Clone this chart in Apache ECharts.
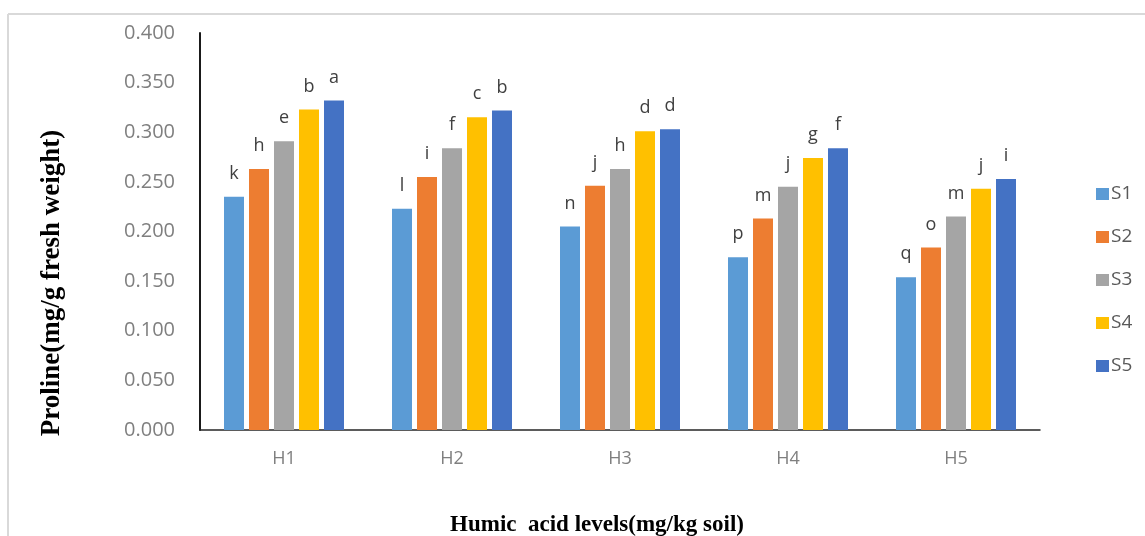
<!DOCTYPE html>
<html>
<head>
<meta charset="utf-8">
<script src="https://cdn.jsdelivr.net/npm/echarts@6/dist/echarts.min.js"></script>
<style>
  html, body { margin: 0; padding: 0; background: #fff; }
  #chart { width: 1145px; height: 536px; }
</style>
</head>
<body>
<div id="chart"></div>
<script>
// Humic acid levels on the x axis
const categories = ['H1', 'H2', 'H3', 'H4', 'H5'];
const seriesNames = ['S1', 'S2', 'S3', 'S4', 'S5'];

// Proline content (mg/g fresh weight) for each level
const s1 = [0.235, 0.223, 0.205, 0.174, 0.154];
const s2 = [0.263, 0.255, 0.246, 0.213, 0.184];
const s3 = [0.291, 0.284, 0.263, 0.245, 0.215];
const s4 = [0.323, 0.315, 0.301, 0.274, 0.243];
const s5 = [0.332, 0.322, 0.303, 0.284, 0.253];

// Significance letters drawn above each bar
const l1 = ['k', 'l', 'n', 'p', 'q'];
const l2 = ['h', 'i', 'j', 'm', 'o'];
const l3 = ['e', 'f', 'h', 'j', 'm'];
const l4 = ['b', 'c', 'd', 'g', 'j'];
const l5 = ['a', 'b', 'd', 'f', 'i'];

const yTicks = ['0.000', '0.050', '0.100', '0.150', '0.200', '0.250', '0.300', '0.350', '0.400'];

const values = [s1, s2, s3, s4, s5];
const letters = [l1, l2, l3, l4, l5];
const colors = ['#5b9bd5', '#ed7d31', '#a5a5a5', '#ffc000', '#4472c4'];

const chart = echarts.init(document.getElementById('chart'), null, { renderer: 'canvas' });

const series = seriesNames.map((name, i) => ({
  name: name,
  type: 'bar',
  barWidth: 20,
  barGap: '25%',
  itemStyle: { color: colors[i] },
  label: {
    show: true,
    position: 'top',
    distance: 14,
    fontFamily: 'Open Sans',
    fontSize: 18,
    color: '#404040',
    formatter: p => letters[i][p.dataIndex]
  },
  data: values[i]
}));

chart.setOption({
  animation: false,
  backgroundColor: '#ffffff',
  grid: { left: 200, right: 105, top: 33, bottom: 106, containLabel: false },
  legend: {
    orient: 'vertical',
    left: 1091,
    top: 179,
    icon: 'rect',
    itemWidth: 13,
    itemHeight: 12,
    itemGap: 23,
    textStyle: { fontFamily: 'Open Sans', fontSize: 19, color: '#595959', lineHeight: 20, padding: [0, 0, 0, -3] },
    data: seriesNames
  },
  xAxis: {
    type: 'category',
    data: categories,
    axisLine: { show: true, lineStyle: { color: '#262626', width: 1.5 } },
    axisTick: { show: false },
    axisLabel: { fontFamily: 'Open Sans', fontSize: 18, color: '#7f7f7f', margin: 20 }
  },
  yAxis: {
    type: 'value',
    min: 0,
    max: 0.4,
    interval: 0.05,
    axisLine: { show: true, lineStyle: { color: '#1a1a1a', width: 2 } },
    axisTick: { show: false },
    splitLine: { show: false },
    axisLabel: {
      fontFamily: 'Open Sans',
      fontSize: 20,
      color: '#7f7f7f',
      margin: 25,
      formatter: (v) => yTicks[Math.round(v / 0.05)]
    }
  },
  graphic: [
    { type: 'line', shape: { x1: 8, y1: 14, x2: 1145, y2: 14 }, style: { stroke: '#d9d9d9', lineWidth: 2 } },
    { type: 'line', shape: { x1: 8, y1: 14, x2: 8, y2: 536 }, style: { stroke: '#d9d9d9', lineWidth: 2 } },
    {
      type: 'text',
      x: 52, y: 283,
      rotation: Math.PI / 2,
      style: {
        text: 'Proline(mg/g fresh weight)',
        font: 'bold 27px "Liberation Serif", "Times New Roman", serif',
        fill: '#000000',
        align: 'center',
        verticalAlign: 'middle'
      }
    },
    {
      type: 'text',
      x: 597, y: 525,
      style: {
        text: 'Humic  acid levels(mg/kg soil)',
        font: 'bold 23px "Liberation Serif", "Times New Roman", serif',
        fill: '#000000',
        align: 'center',
        verticalAlign: 'middle'
      }
    }
  ],
  series: series
});
</script>
</body>
</html>
